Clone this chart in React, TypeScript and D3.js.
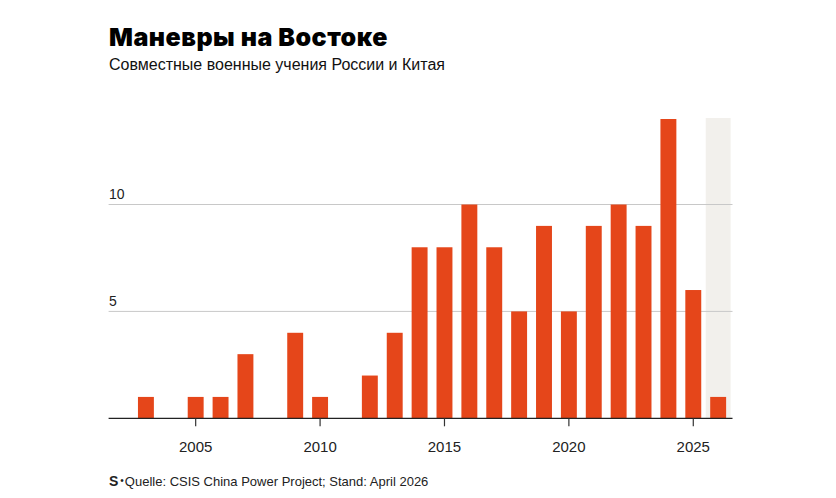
import React from "react";
import * as d3 from "d3";

const years = [2002, 2003, 2004, 2005, 2006, 2007, 2008, 2009, 2010, 2011, 2012, 2013, 2014, 2015, 2016, 2017, 2018, 2019, 2020, 2021, 2022, 2023, 2024, 2025, 2026];
const exercises = [0, 1, 0, 1, 1, 3, 0, 4, 1, 0, 2, 4, 8, 8, 10, 8, 5, 9, 5, 9, 10, 9, 14, 6, 1];
const xTicks = [2005, 2010, 2015, 2020, 2025];
const yTicks = [5, 10];
const partialYear = 2026;

const title = "Маневры на Востоке";
const subtitle = "Совместные военные учения России и Китая";
const source = "Quelle: CSIS China Power Project; Stand: April 2026";

export default function App() {
  const W = 836, H = 498;
  const left = 108.6, right = 732.5;
  const base = 418.3, top = 119;
  const x = d3.scaleBand<number>().domain(years).range([left, 730.6]).paddingInner(0.36).paddingOuter(0.18);
  const y = d3.scaleLinear().domain([0, 14]).range([base, top]);
  const step = x.step();
  const center = (yr: number) => (x(yr) as number) + x.bandwidth() / 2;
  const font = "'Liberation Sans', Arial, sans-serif";
  return (
    <svg width={W} height={H} style={{ position: "absolute", left: 0, top: 0, background: "#fff" }} fontFamily={font}>
      <text x={109} y={46} fontSize={25} fill="#000" fontFamily="Inter, sans-serif" letterSpacing={0.5} style={{ fontWeight: 900 }}>{title}</text>
      <text x={109} y={70} fontSize={16} fill="#111">{subtitle}</text>
      <rect x={center(partialYear) - step / 2} y={y(14) - 1} width={step} height={base - y(14) + 1} fill="#f2f0ec" />
      {yTicks.map((t) => (
        <g key={t}>
          <line x1={left} x2={right} y1={y(t)} y2={y(t)} stroke="#c8c8c8" strokeWidth={1} />
          <text x={109} y={y(t) - 5.5} fontSize={14} fill="#222">{t}</text>
        </g>
      ))}
      {years.map((yr, i) => exercises[i] > 0 ? (
        <rect key={yr} x={x(yr)} y={y(exercises[i])} width={x.bandwidth()} height={base - y(exercises[i])} fill="#e5461a" />
      ) : null)}
      <line x1={left} x2={right} y1={base} y2={base} stroke="#222" strokeWidth={1.3} />
      {xTicks.map((t) => (
        <g key={t}>
          <line x1={center(t)} x2={center(t)} y1={base} y2={base + 8} stroke="#333" strokeWidth={1.2} />
          <text x={center(t)} y={451.5} fontSize={15} textAnchor="middle" fill="#222">{t}</text>
        </g>
      ))}
      <text x={109} y={486} fontSize={13} fill="#222">
        <tspan fontWeight={900} fontSize={14}>S</tspan>
        <tspan dx={2} fontSize={10} dy={-2}>•</tspan>
        <tspan dx={1} dy={2}>{source}</tspan>
      </text>
    </svg>
  );
}
